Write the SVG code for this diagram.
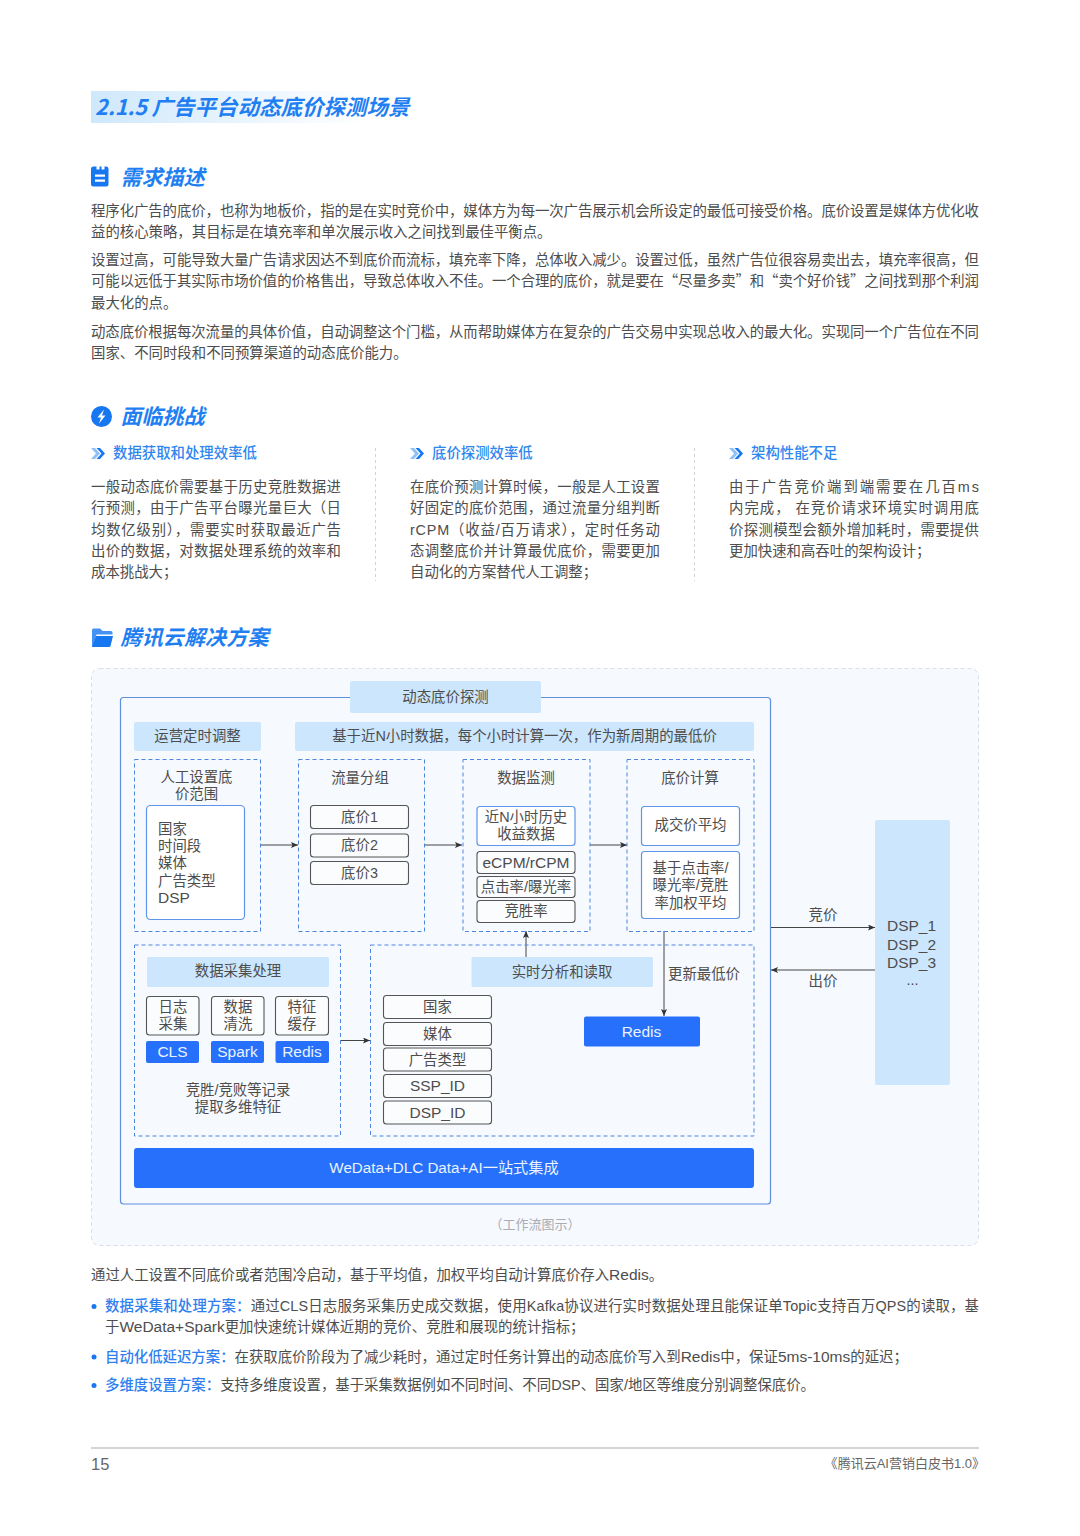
<svg xmlns="http://www.w3.org/2000/svg" width="1080" height="1536" viewBox="0 0 1080 1536">
<style>
text{font-family:"Liberation Sans","Noto Sans CJK SC",sans-serif;font-size:14.4px;fill:#4d4d4d}
.c{text-anchor:middle}
.cjk{font-family:"Noto Sans CJK SC",sans-serif}
.l{font-size:15.5px}
.w{fill:#eaf3ff}
.h{font-size:21px;font-weight:700;font-style:italic;fill:#1f7ff2;font-family:"Noto Sans CJK SC",sans-serif}
.st{fill:#2f86ee;font-weight:500;font-size:14.4px;font-family:"Noto Sans CJK SC",sans-serif}
.bl{fill:#2f7fee;font-weight:500;font-family:"Noto Sans CJK SC",sans-serif}
.lb{fill:#cbe6fd}
.db{fill:#2670fb}
.ds{fill:none;stroke:#4d86e0;stroke-width:1;stroke-dasharray:4 3}
.wb{fill:#fff;stroke:#5f95e8;stroke-width:1.2}
.gb{fill:#fbfcfe;stroke:#555;stroke-width:1.1}
.ln{stroke:#444;stroke-width:1;fill:none}
.ic{fill:#1677f0}
</style>
<defs>
<linearGradient id="tg" x1="0" x2="1" y1="0" y2="0"><stop offset="0" stop-color="#cfe8fb"/><stop offset="1" stop-color="#ffffff"/></linearGradient>
<marker id="ar" markerWidth="8" markerHeight="8" refX="7" refY="3" orient="auto" markerUnits="userSpaceOnUse"><path d="M0 0L7 3L0 6L1.5 3Z" fill="#333"/></marker>
<g id="chev"><path d="M0 0h4l5 5.500l-5 5.500h-4l5-5.500z" fill="#8fc0f7"/><path d="M5.500 0h3.500l5 5.500l-5 5.500h-3.500l5-5.500z" fill="#1677f0"/></g>
</defs>
<rect width="1080" height="1536" fill="#fff"/>

<g id="title">
<rect x="91" y="91" width="275" height="32" fill="url(#tg)"/>
<text x="95" y="115" class="h" style="font-size:21.500px">2.1.5<tspan x="151.500">广告平台动态底价探测场景</tspan></text>
</g>

<g id="sec-need">
<path class="ic" d="M94 166.500h2.500v3h3v-3h2v3h3v-3h1.500a2.500 2.500 0 0 1 2.500 2.500v15a2.500 2.500 0 0 1-2.500 2.500h-12.500a2.500 2.500 0 0 1-2.500-2.500v-15a2.500 2.500 0 0 1 2.500-2.500z"/>
<path d="M95 174.500h10v2.200h-10zM95 179.500h10v2.200h-10z" fill="#fff"/>
<text x="120.500" y="185" class="h">需求描述</text>
<text x="91" y="215.500" textLength="888">程序化广告的底价，也称为地板价，指的是在实时竞价中，媒体方为每一次广告展示机会所设定的最低可接受价格。底价设置是媒体方优化收</text>
<text x="91" y="236.500">益的核心策略，其目标是在填充率和单次展示收入之间找到最佳平衡点。</text>
<text x="91" y="264.500" textLength="888">设置过高，可能导致大量广告请求因达不到底价而流标，填充率下降，总体收入减少。设置过低，虽然广告位很容易卖出去，填充率很高，但</text>
<text x="91" y="286" textLength="888">可能以远低于其实际市场价值的价格售出，导致总体收入不佳。一个合理的底价，就是要在<tspan class="cjk">“</tspan>尽量多卖<tspan class="cjk">”</tspan>和<tspan class="cjk">“</tspan>卖个好价钱<tspan class="cjk">”</tspan>之间找到那个利润</text>
<text x="91" y="308">最大化的点。</text>
<text x="91" y="336.500" textLength="888">动态底价根据每次流量的具体价值，自动调整这个门槛，从而帮助媒体方在复杂的广告交易中实现总收入的最大化。实现同一个广告位在不同</text>
<text x="91" y="358">国家、不同时段和不同预算渠道的动态底价能力。</text>
</g>

<g id="sec-challenge">
<circle class="ic" cx="101.500" cy="416.500" r="10.500"/>
<path d="M104 409.500l-6.500 8h3.500l-2 6l6.500-8h-3.500z" fill="#fff"/>
<text x="120.500" y="424" class="h">面临挑战</text>
</g>

<g id="challenge-1">
<use href="#chev" x="91" y="448"/>
<text x="113" y="458" class="st">数据获取和处理效率低</text>
<text x="91" y="491.500" textLength="250">一般动态底价需要基于历史竞胜数据进</text>
<text x="91" y="512.500" textLength="250">行预测，由于广告平台曝光量巨大（日</text>
<text x="91" y="534.500" textLength="250">均数亿级别），需要实时获取最近广告</text>
<text x="91" y="555.500" textLength="250">出价的数据，对数据处理系统的效率和</text>
<text x="91" y="577">成本挑战大；</text>
</g>
<g id="challenge-2">
<use href="#chev" x="410" y="448"/>
<text x="432" y="458" class="st">底价探测效率低</text>
<text x="410" y="491.500" textLength="250">在底价预测计算时候，一般是人工设置</text>
<text x="410" y="512.500" textLength="250">好固定的底价范围，通过流量分组判断</text>
<text x="410" y="534.500" textLength="250">rCPM（收益/百万请求），定时任务动</text>
<text x="410" y="555.500" textLength="250">态调整底价并计算最优底价，需要更加</text>
<text x="410" y="577">自动化的方案替代人工调整；</text>
</g>
<g id="challenge-3">
<use href="#chev" x="729" y="448"/>
<text x="751" y="458" class="st">架构性能不足</text>
<text x="729" y="491.500" textLength="250">由于广告竞价端到端需要在几百ms</text>
<text x="729" y="512.500" textLength="250">内完成， 在竞价请求环境实时调用底</text>
<text x="729" y="534.500" textLength="250">价探测模型会额外增加耗时，需要提供</text>
<text x="729" y="555.500">更加快速和高吞吐的架构设计；</text>
</g>
<g id="separators">
<path d="M375.500 448V581M694.500 448V581" stroke="#cfd3d8" stroke-dasharray="3 3" fill="none"/>
</g>

<g id="sec-solution">
<path class="ic" d="M93 628.500h7l2.500 2.500h8.500a1.500 1.500 0 0 1 1.500 1.500v2h-16l-3.500 12h-1v-16.500a1.500 1.500 0 0 1 1.500-1.500z" opacity=".8"/>
<path class="ic" d="M96 636h17l-2.500 10a1.500 1.500 0 0 1-1.500 1h-17z"/>
<text x="120.500" y="645" class="h" style="letter-spacing:.15px">腾讯云解决方案</text>
</g>

<g id="panel"><rect x="91.500" y="668.500" width="887" height="577" rx="8" fill="#f6f9fe" stroke="#d8dfe6" stroke-dasharray="4 3"/></g>
<g id="main-frame"><rect x="120.500" y="697.500" width="650" height="506.500" rx="3" fill="#f6f9fe" stroke="#5f90dc" stroke-width="1.200"/></g>

<g id="connectors">
<path class="ln" marker-end="url(#ar)" d="M261 845H298"/>
<path class="ln" marker-end="url(#ar)" d="M425 845H462"/>
<path class="ln" marker-end="url(#ar)" d="M590 845H627"/>
<path class="ln" marker-end="url(#ar)" d="M341 1040.500H370"/>
<path class="ln" marker-end="url(#ar)" d="M526 957V931"/>
<path class="ln" marker-end="url(#ar)" d="M664 931V1016"/>
<path class="ln" marker-end="url(#ar)" d="M771 927.500H875"/>
<path class="ln" marker-end="url(#ar)" d="M875 970H771"/>
</g>

<g id="n-header"><rect x="350" y="681" width="191" height="32" rx="2" class="lb"/><text x="445.500" y="702" class="c">动态底价探测</text></g>
<g id="n-ops"><rect x="134" y="722" width="127" height="29" rx="2" class="lb"/><text x="197.500" y="741" class="c">运营定时调整</text></g>
<g id="n-base"><rect x="295" y="722" width="459" height="29" rx="2" class="lb"/><text x="524.500" y="741" class="c">基于近N小时数据，每个小时计算一次，作为新周期的最低价</text></g>

<g id="n-manual">
<rect x="134.500" y="759.500" width="126" height="172" class="ds"/>
<text x="196.500" y="782" class="c">人工设置底</text><text x="196.500" y="799" class="c">价范围</text>
<rect x="146.500" y="805.500" width="98" height="114" rx="4" class="wb"/>
<text x="158" y="834">国家</text><text x="158" y="851">时间段</text><text x="158" y="868">媒体</text><text x="158" y="886">广告类型</text><text x="158" y="903" class="l">DSP</text>
</g>
<g id="n-flow">
<rect x="298.500" y="759.500" width="126" height="172" class="ds"/>
<text x="360" y="782.500" class="c">流量分组</text>
<rect x="310.500" y="805.500" width="98" height="23" rx="3" class="gb"/><text x="359.500" y="822" class="c">底价1</text>
<rect x="310.500" y="834" width="98" height="23" rx="3" class="gb"/><text x="359.500" y="850" class="c">底价2</text>
<rect x="310.500" y="861.500" width="98" height="23" rx="3" class="gb"/><text x="359.500" y="878" class="c">底价3</text>
</g>
<g id="n-monitor">
<rect x="463" y="759.500" width="127" height="172" class="ds"/>
<text x="526" y="782.500" class="c">数据监测</text>
<rect x="477" y="806.500" width="98" height="39" rx="3" class="wb"/><text x="526" y="822" class="c">近N小时历史</text><text x="526" y="839" class="c">收益数据</text>
<rect x="477" y="851.500" width="98" height="22" rx="3" class="gb"/><text x="526" y="867.500" class="c l">eCPM/rCPM</text>
<rect x="477" y="876.500" width="98" height="21" rx="3" class="gb"/><text x="526" y="892" class="c">点击率/曝光率</text>
<rect x="477" y="900.500" width="98" height="22" rx="3" class="gb"/><text x="526" y="916" class="c">竞胜率</text>
</g>
<g id="n-calc">
<rect x="627" y="759.500" width="127" height="172" class="ds"/>
<text x="690" y="782.500" class="c">底价计算</text>
<rect x="641.500" y="806.500" width="98" height="39" rx="3" class="wb"/><text x="690.500" y="830" class="c">成交价平均</text>
<rect x="641.500" y="851.500" width="98" height="67" rx="3" class="wb"/>
<text x="690.500" y="873" class="c">基于点击率/</text><text x="690.500" y="890" class="c">曝光率/竞胜</text><text x="690.500" y="908" class="c">率加权平均</text>
</g>

<g id="n-collect">
<rect x="134.500" y="945" width="206" height="191" class="ds"/>
<rect x="147" y="957" width="182" height="30" rx="2" class="lb"/><text x="238" y="976" class="c">数据采集处理</text>
<rect x="146.500" y="996.500" width="52.500" height="38.500" rx="3" class="gb"/><text x="173" y="1012" class="c">日志</text><text x="173" y="1029" class="c">采集</text>
<rect x="211.500" y="996.500" width="52.500" height="38.500" rx="3" class="gb"/><text x="238" y="1012" class="c">数据</text><text x="238" y="1029" class="c">清洗</text>
<rect x="275.500" y="996.500" width="53" height="38.500" rx="3" class="gb"/><text x="302" y="1012" class="c">特征</text><text x="302" y="1029" class="c">缓存</text>
<rect x="146" y="1041" width="53" height="22" rx="2" class="db"/><text x="172.500" y="1056.500" class="c l w">CLS</text>
<rect x="211" y="1041" width="53" height="22" rx="2" class="db"/><text x="237.500" y="1056.500" class="c l w">Spark</text>
<rect x="275.500" y="1041" width="53.500" height="22" rx="2" class="db"/><text x="302" y="1056.500" class="c l w">Redis</text>
<text x="238" y="1095" class="c">竞胜/竞败等记录</text><text x="238" y="1112" class="c">提取多维特征</text>
</g>
<g id="n-realtime">
<rect x="370.500" y="945" width="383.500" height="191" class="ds"/>
<rect x="471.500" y="957" width="181.500" height="30" rx="2" class="lb"/><text x="562" y="977" class="c">实时分析和读取</text>
<rect x="383.500" y="995.500" width="108" height="23" rx="3" class="gb"/><text x="437.500" y="1012" class="c">国家</text>
<rect x="383.500" y="1022.500" width="108" height="23" rx="3" class="gb"/><text x="437.500" y="1039" class="c">媒体</text>
<rect x="383.500" y="1048" width="108" height="23" rx="3" class="gb"/><text x="437.500" y="1065" class="c">广告类型</text>
<rect x="383.500" y="1074.500" width="108" height="23" rx="3" class="gb"/><text x="437.500" y="1091" class="c l">SSP_ID</text>
<rect x="383.500" y="1101" width="108" height="23" rx="3" class="gb"/><text x="437.500" y="1118" class="c l">DSP_ID</text>
<text x="668" y="979">更新最低价</text>
<rect x="584" y="1016.500" width="116" height="30" rx="2" class="db"/><text x="641.500" y="1036.500" class="c l w">Redis</text>
</g>
<g id="n-wedata"><rect x="134" y="1148" width="620" height="40" rx="3" class="db"/><text x="444" y="1173" class="c w" style="font-size:15.200px">WeData+DLC Data+AI一站式集成</text></g>
<g id="n-dsp">
<rect x="875" y="820" width="75" height="265" rx="2" class="lb"/>
<text x="887" y="931" class="l">DSP_1</text><text x="887" y="949.500" class="l">DSP_2</text><text x="887" y="967.500" class="l">DSP_3</text><text x="912.500" y="985" class="c">...</text>
</g>
<g id="edge-labels">
<text x="823" y="920" class="c">竞价</text>
<text x="823" y="986" class="c">出价</text>
</g>
<text x="535" y="1229" class="c" style="fill:#a9adb3;font-size:13px">（工作流图示）</text>

<g id="bottom-text">
<text x="91" y="1280">通过人工设置不同底价或者范围冷启动，基于平均值，加权平均自动计算底价存入<tspan class="l">Redis</tspan>。</text>
<circle cx="94" cy="1306.500" r="2.500" fill="#1677f0"/>
<text x="105" y="1311" textLength="874"><tspan class="bl">数据采集和处理方案：</tspan>通过CLS日志服务采集历史成交数据，使用Kafka协议进行实时数据处理且能保证单Topic支持百万QPS的读取，基</text>
<text x="105" y="1332">于<tspan class="l">WeData+Spark</tspan>更加快速统计媒体近期的竞价、竞胜和展现的统计指标；</text>
<circle cx="94" cy="1357" r="2.500" fill="#1677f0"/>
<text x="105" y="1362"><tspan class="bl">自动化低延迟方案：</tspan>在获取底价阶段为了减少耗时，通过定时任务计算出的动态底价写入到<tspan class="l">Redis</tspan>中，保证<tspan class="l">5ms-10ms</tspan>的延迟；</text>
<circle cx="94" cy="1385.500" r="2.500" fill="#1677f0"/>
<text x="105" y="1390"><tspan class="bl">多维度设置方案：</tspan>支持多维度设置，基于采集数据例如不同时间、不同DSP、国家/地区等维度分别调整保底价。</text>
</g>
<g id="footer">
<path d="M91 1448H979" stroke="#aaa" stroke-width="1.200"/>
<text x="91" y="1469.500" style="font-size:16.500px;fill:#666">15</text>
<text x="985" y="1468" style="text-anchor:end;font-size:13px;fill:#666"><tspan class="cjk">《</tspan>腾讯云AI营销白皮书1.0<tspan class="cjk">》</tspan></text>
</g>
</svg>
